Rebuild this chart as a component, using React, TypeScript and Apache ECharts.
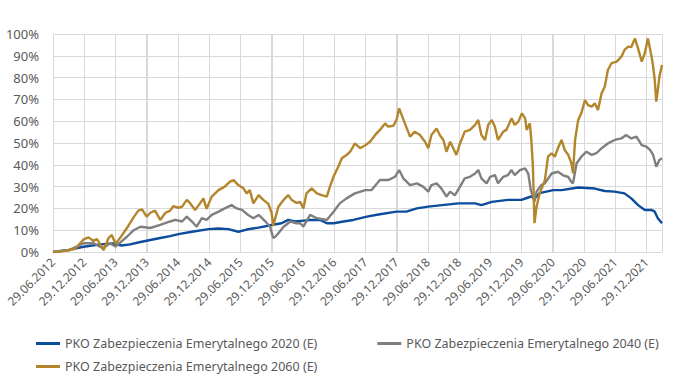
import React, { useEffect, useRef } from "react";
import * as echarts from "echarts";

// x = months since 29.06.2012, y = cumulative return in %
const xTickLabels = [
  "29.06.2012", "29.12.2012", "29.06.2013", "29.12.2013", "29.06.2014", "29.12.2014",
  "29.06.2015", "29.12.2015", "29.06.2016", "29.12.2016", "29.06.2017", "29.12.2017",
  "29.06.2018", "29.12.2018", "29.06.2019", "29.12.2019", "29.06.2020", "29.12.2020",
  "29.06.2021", "29.12.2021",
];
// month offsets of the tick labels above
const xTickMonths = [0, 6, 12, 18, 24, 30, 36, 42, 48, 54, 60, 66, 72, 78, 84, 90, 96, 102, 108, 114];

const seriesNames = [
  "PKO Zabezpieczenia Emerytalnego 2020 (E)",
  "PKO Zabezpieczenia Emerytalnego 2040 (E)",
  "PKO Zabezpieczenia Emerytalnego 2060 (E)",
];

const fund2020: [number, number][] = [
  [0, 0], [3, 1], [5.9, 2.4], [9.1, 3.5], [11.6, 3.9], [13.2, 3], [14.8, 3.5], [16.8, 4.6],
  [18.7, 5.5], [20.6, 6.4], [22.5, 7.3], [24.1, 8.2], [26.7, 9.3], [29.9, 10.5], [31.8, 10.8],
  [33.7, 10.5], [35.6, 9.3], [37.2, 10.3], [39.5, 11.2], [42, 12.4], [43.9, 13.2], [45.2, 14.7],
  [46.5, 14], [48.1, 14.4], [49.4, 14.7], [51.3, 14.7], [52.6, 13.2], [53.9, 13.2], [55.8, 14],
  [57.7, 14.7], [60.3, 16.2], [62.8, 17.3], [66, 18.5], [67.9, 18.5], [69.9, 20], [72.1, 20.8],
  [74.7, 21.5], [77.9, 22.3], [81.1, 22.3], [82.3, 21.5], [84.3, 23], [87.4, 23.9], [90, 23.9],
  [91.3, 25], [91.9, 25.5], [92.5, 24.5], [93.5, 27], [96.1, 28.4], [97.7, 28.4], [100.9, 29.6],
  [104.1, 29.1], [106, 28], [107.9, 27.7], [109.8, 26.9], [111.1, 24.6], [112.4, 21.5],
  [113.7, 19.3], [115, 19.3], [115.6, 18.5], [116.2, 15.5], [117, 13.2],
];

const fund2040: [number, number][] = [
  [0, 0], [3, 0.8], [5.9, 4], [7.8, 4], [9.1, 2.3], [9.7, 1.8], [10.9, 4], [12, 2.5], [14.2, 7],
  [15.5, 10], [16.8, 11.6], [18.7, 11], [20.6, 12.4], [22.5, 14], [23.5, 14.7], [24.8, 14],
  [25.7, 16.2], [27, 13.2], [27.6, 11.6], [28.6, 15.5], [29.5, 14.7], [30.5, 17], [31.8, 18.5],
  [33, 20], [34.3, 21.5], [35.3, 20], [36.3, 19.3], [37.5, 17], [38.5, 15.5], [39.5, 17],
  [40.8, 14], [41.7, 11.6], [42.3, 6.5], [42.7, 7], [43.3, 8.6], [44.3, 11.6], [45.6, 14],
  [46.8, 13.2], [47.5, 13.2], [48.1, 11.6], [49.4, 17], [50.7, 15.5], [52.6, 14.7], [53.9, 18.5],
  [55.1, 22.3], [56.4, 24.6], [58, 26.9], [60, 28.4], [61.2, 28.4], [62.8, 33], [64.4, 33],
  [65.7, 34.5], [66.5, 37.6], [67.3, 33.8], [68.6, 30.7], [69.9, 31.5], [71.1, 30], [72.1, 27.7],
  [72.7, 30.7], [73.7, 31.5], [74.6, 29.2], [75.6, 25.4], [76.3, 27.7], [77.2, 26], [78.2, 30],
  [79.1, 33.8], [80.1, 34.5], [81.1, 36], [81.7, 37.6], [82.3, 33.8], [83.3, 31.5], [84, 34.5],
  [84.9, 35.3], [85.5, 31.5], [86.5, 34.5], [87.4, 35.3], [88.1, 37.6], [88.7, 35.3],
  [89.7, 37.6], [90.7, 38.4], [91.3, 36], [91.8, 28.4], [92.2, 25.4], [92.5, 23], [92.9, 27.7],
  [93.8, 30.7], [94.5, 31.5], [95.8, 36], [97, 36.8], [98, 35.2], [99, 34.4], [99.6, 32.1],
  [99.9, 31.5], [100.6, 40.7], [101.5, 43.7], [102.5, 46], [103.5, 44.5], [104.4, 45.3],
  [105.4, 47.6], [106.6, 49.8], [107.9, 51.4], [109.2, 52.1], [110.1, 53.7], [111.1, 52.1],
  [112.1, 52.9], [113.1, 49], [114, 48.3], [114.7, 46.8], [115.3, 44.5], [115.9, 39.1],
  [116.5, 42.2], [117, 43],
];

const fund2060: [number, number][] = [
  [0, 0], [1.5, 0.3], [3, 0.8], [4.3, 1.5], [5.2, 4], [5.9, 5.8], [6.8, 6.7], [7.8, 5], [8.4, 6],
  [9.1, 3.5], [9.7, 0.8], [10.7, 6.5], [11.3, 7.8], [12, 3.8], [12.9, 6.5], [14.2, 11], [15.5, 16],
  [16.4, 19], [17.1, 19.6], [18, 16.2], [18.7, 18], [19.6, 19], [20.6, 14.7], [21.6, 18],
  [22.5, 19], [23.1, 21], [24.1, 20.3], [24.8, 20.8], [25.7, 23.9], [26.3, 22.5], [27.3, 19.3],
  [28, 21.5], [28.9, 24.6], [29.5, 19.8], [30.5, 25.4], [31.8, 28.4], [33, 30], [34, 32.3],
  [34.7, 33], [35.6, 30.7], [36.6, 29.2], [37.2, 26.9], [37.8, 28.4], [38.5, 22.3], [39.5, 26.1],
  [40.4, 23.9], [41.4, 22], [42, 18], [42.3, 12], [43.3, 20.8], [44.3, 23.9], [45.2, 26.1],
  [45.8, 24], [46.8, 22.5], [47.5, 23], [48.1, 20], [48.7, 26.9], [49.7, 29.2], [50.7, 26.9],
  [51.6, 26.1], [52.6, 25.4], [53.2, 30], [53.9, 34.6], [54.8, 39.1], [55.5, 43], [56.4, 44.5],
  [57.1, 46], [58, 49.8], [59, 47.6], [60, 49], [60.9, 50.6], [61.9, 53.7], [62.8, 56],
  [63.8, 59], [64.4, 57.5], [65.4, 57.9], [66, 60.6], [66.5, 65.9], [67, 62.8], [67.6, 59],
  [68.6, 52.9], [69.5, 55.2], [70.5, 53.7], [71.5, 50.5], [72.1, 47.6], [72.7, 53.7],
  [73.7, 56.7], [74.3, 53.7], [75, 51.4], [75.6, 46], [76.3, 50.6], [76.9, 47.6], [77.5, 44.5],
  [78.2, 49.8], [79.1, 55.2], [80.1, 56], [81.1, 58.3], [81.7, 60.6], [82.3, 53.7], [83, 51.4],
  [83.6, 58.3], [84.3, 60.6], [84.9, 57.5], [85.5, 51.4], [86.5, 55.2], [87.1, 56], [88.1, 61.3],
  [88.7, 58.3], [89.4, 59.8], [90.1, 63.6], [90.7, 61.3], [91, 56], [91.6, 59], [91.9, 51.4],
  [92.2, 39.1], [92.5, 13.2], [92.9, 20.8], [93.5, 26.9], [94.2, 31], [94.5, 33], [95.1, 43.7],
  [95.8, 45.3], [96.4, 43.7], [97, 47.6], [97.7, 51.4], [98.3, 46.8], [99, 44.5], [99.6, 40.7],
  [99.9, 36.1], [100.3, 51.4], [100.9, 60.6], [101.5, 63.6], [102.2, 69.7], [102.8, 67.4],
  [103.5, 66.7], [104.1, 68.2], [104.7, 65.1], [105.4, 72.8], [106, 75.8], [106.6, 83.5],
  [107.3, 86.6], [108.3, 87.3], [109.2, 89.6], [109.8, 92.7], [110.5, 94.2], [111.1, 94],
  [111.8, 98], [112.4, 93.4], [113.1, 87.3], [113.7, 91.2], [114.3, 98], [115, 89.6],
  [115.3, 85], [115.6, 79], [115.9, 69], [116.2, 74.3], [116.5, 80.4], [117, 85.8],
];

const colors = ["#0B4C9C", "#7F7F7F", "#B3862B"];
const GRID_COLOR = "#D9D9D9";
const FONT = "'Noto Sans', sans-serif";

export default function App() {
  const ref = useRef<HTMLDivElement>(null);
  useEffect(() => {
    if (!ref.current) return;
    const chart = echarts.init(ref.current, undefined, { renderer: "svg" });
    const datas = [fund2020, fund2040, fund2060];
    const legendText = { fontFamily: FONT, fontSize: 12.5, color: "#595959" };
    chart.setOption({
      animation: false,
      textStyle: { fontFamily: FONT },
      grid: { left: 53, right: 11, top: 34, bottom: 137, containLabel: false },
      legend: [
        {
          data: [seriesNames[0], seriesNames[1]],
          left: 31,
          top: 332,
          orient: "horizontal",
          itemWidth: 24,
          itemHeight: 3,
          itemGap: 60,
          icon: "rect",
          textStyle: legendText,
        },
        {
          data: [seriesNames[2]],
          left: 31,
          top: 355,
          itemWidth: 24,
          itemHeight: 3,
          icon: "rect",
          textStyle: legendText,
        },
      ],
      xAxis: {
        type: "value",
        min: 0,
        max: 117,
        interval: 6,
        axisLine: { show: true, lineStyle: { color: GRID_COLOR, width: 1 } },
        axisTick: { show: false },
        splitLine: { show: true, lineStyle: { color: GRID_COLOR, width: 1 } },
        axisLabel: {
          rotate: 45,
          margin: 8,
          fontSize: 12,
          color: "#595959",
          fontFamily: FONT,
          showMaxLabel: false,
          formatter: (v: number) => {
            const k = Math.round(v / 6);
            if (Math.abs(v - k * 6) > 0.01) return "";
            return xTickLabels[k] ?? "";
          },
        },
      },
      yAxis: {
        type: "value",
        min: 0,
        max: 100,
        interval: 10,
        axisLine: { show: false },
        axisTick: { show: false },
        splitLine: { show: true, lineStyle: { color: GRID_COLOR, width: 1 } },
        axisLabel: {
          margin: 14,
          fontSize: 13,
          color: "#595959",
          fontFamily: FONT,
          formatter: "{value}%",
        },
      },
      series: [
        {
          name: "grid-verticals",
          type: "custom",
          silent: true,
          z: 1,
          data: xTickMonths.map((m) => [m, 0, 100]),
          encode: { x: 0, y: [1, 2] },
          renderItem: (params: any, api: any) => {
            const bottom = api.coord([api.value(0), api.value(1)]);
            const top = api.coord([api.value(0), api.value(2)]);
            const x = Math.round(bottom[0]);
            return {
              type: "rect",
              shape: { x: x, y: top[1], width: 1, height: bottom[1] - top[1] },
              style: { fill: GRID_COLOR },
            };
          },
        },
        ...seriesNames.map((name, i) => ({
          name,
          type: "line",
          data: datas[i],
          symbol: "none",
          showSymbol: false,
          lineStyle: { color: colors[i], width: 2.4 },
          itemStyle: { color: colors[i] },
          z: 2 + i,
        })),
      ],
    });
    return () => chart.dispose();
  }, []);
  return (
    <div
      ref={ref}
      style={{ position: "absolute", left: 0, top: 0, width: 673, height: 389 }}
    />
  );
}
